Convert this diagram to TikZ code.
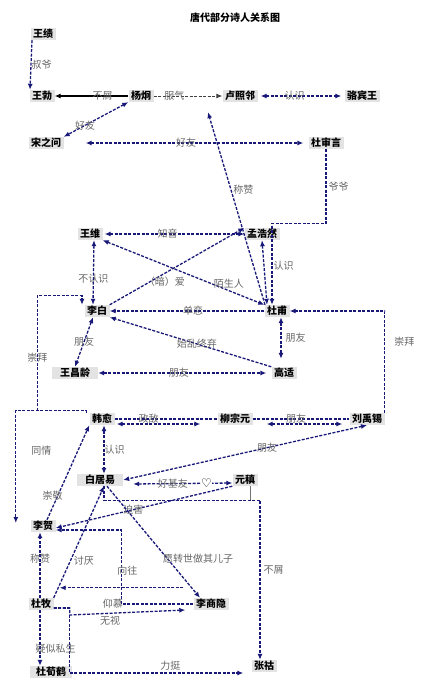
\documentclass[tikz,border=0pt]{standalone}
\usepackage{fontspec}
\setmainfont{Noto Sans CJK SC}
\newfontfamily\heartfont{DejaVu Sans}
\usepackage{tikz}
\usetikzlibrary{arrows.meta,calc}
\tikzset{>={Latex[length=6pt,width=5pt]}}
\definecolor{relblue}{RGB}{24,24,120}
\tikzstyle{poet}=[
	 fill=gray!22,
	 inner xsep=2.5pt, inner ysep=1pt,
	 minimum height=12pt,
	 font=\fontsize{10}{12}\selectfont\bfseries
    ]
\tikzstyle{rel}=[draw=relblue, ->, line width=1.3pt, dash pattern=on 3pt off 1.5pt]
\tikzstyle{lbl}=[text=black!60, inner sep=1pt, font=\fontsize{10}{12}\selectfont]

\begin{document}
\begin{tikzpicture}[x=1pt,y=-1pt]
\useasboundingbox (0,0) rectangle (440,696);

\node[font=\fontsize{10}{12}\selectfont\bfseries] (title) at (235,18) {唐代部分诗人关系图};

\node[poet] (wangji) at (43,34) {王绩};
\node[poet] (wangbo) at (42,96) {王勃};
\node[poet] (yangjiong) at (141,96) {杨炯};
\node[poet] (luzhaolin) at (240,96) {卢照邻};
\node[poet] (luobinwang) at (362,96) {骆宾王};
\node[poet] (songzhiwen) at (46,143) {宋之问};
\node[poet] (dushenyan) at (326,143) {杜审言};
\node[poet] (wangwei) at (90,234) {王维};
\node[poet] (menghaoran) at (262,234) {孟浩然};
\node[poet] (libai) at (97,311) {李白};
\node[poet] (dufu) at (277,311) {杜甫};
\node[poet, minimum width=46pt] (wangchangling) at (75,373) {王昌龄};
\node[poet] (gaoshi) at (284,373) {高适};
\node[poet] (hanyu) at (102,419) {韩愈};
\node[poet] (liuzongyuan) at (235,419) {柳宗元};
\node[poet] (liuyuxi) at (367,419) {刘禹锡};
\node[poet, minimum width=46pt] (baijuyi) at (100,480) {白居易};
\node[poet] (yuanzhen) at (245,480) {元稹};
\node[poet] (lihe) at (43,526) {李贺};
\node[poet] (dumu) at (41,604) {杜牧};
\node[poet] (lishangyin) at (211,604) {李商隐};
\node[poet, minimum width=42pt] (duxunhe) at (51,672) {杜荀鹤};
\node[poet] (zhanghu) at (264,666) {张祜};

% early Tang
\draw[rel] ([xshift=-11pt]wangji.south) -- ([xshift=-12pt]wangbo.north) node[lbl,midway,right=-1pt]{叔爷};
\draw[->,line width=1.1pt] (yangjiong.west) -- (wangbo.east) node[lbl,pos=.35]{不屑};
\draw[rel,draw=black!75,line width=.9pt] (yangjiong.east) -- (luzhaolin.west) node[lbl,pos=.3]{服气};
\draw[rel,<->] ([xshift=3pt]luzhaolin.east) -- ([xshift=-3pt]luobinwang.west) node[lbl,pos=.42]{认识};
\draw[rel,<->] (yangjiong.south west) -- (songzhiwen.north east) node[lbl,pos=.67]{好友};
\draw[rel,<->,shorten <=22pt,shorten >=5pt] (songzhiwen.east) -- (dushenyan.west) node[lbl,pos=.5]{好友};
\draw[rel] ([xshift=-12pt]dufu.north) -- ([xshift=-32pt,yshift=-10pt]luzhaolin.south) node[lbl,pos=.6,right=1pt]{称赞};
\draw[rel] (dushenyan.south) -- ++(0,74) node[lbl,midway,right=1pt]{爷爷} -| ([xshift=-5pt]dufu.north);

% high Tang
\draw[rel,<->] ([xshift=2pt]wangwei.east) -- (menghaoran.west) node[lbl,pos=.45]{知音};
\draw[rel,<->] (wangwei.south east) -- (dufu.north west) node[lbl,pos=.78,yshift=7pt]{陌生人};
\draw[rel,<->] ([xshift=4pt]wangwei.south) -- ([xshift=-4pt]libai.north) node[lbl,pos=.6]{不认识};
\draw[rel] (libai.north east) -- (menghaoran.north west) node[lbl,pos=.41,yshift=-8pt]{（暗）爱};
\draw[rel,<->] (menghaoran.south) -- ([xshift=-10pt]dufu.north) node[lbl,pos=.4,right=8pt]{认识};
\draw[rel] (dufu.west) -- (libai.east) node[lbl,pos=.46]{单恋};
\draw[rel] (gaoshi.north west) -- (libai.south east) node[lbl,pos=.46]{始乱终弃};
\draw[rel,<->] ([xshift=-4pt]libai.south) -- (wangchangling.north) node[lbl,pos=.5]{朋友};
\draw[rel,<->] ([xshift=4pt]dufu.south) -- ([xshift=-3pt,yshift=8pt]gaoshi.north) node[lbl,midway,right=3pt]{朋友};
\draw[rel,<->] (wangchangling.east) -- ([xshift=-5pt]gaoshi.west) node[lbl,pos=.48]{朋友};
\draw[rel] (liuyuxi.north east) |- (dufu.east) node[lbl,pos=.35,right=8pt]{崇拜};

% Han Yu and friends
\draw[rel] ([xshift=-3pt]hanyu.north west) -- ++(0,-2) -- ++(-70.5,0) -- ([xshift=-14.5pt,yshift=3pt]lihe.west) node[lbl,pos=.36,right=14pt]{同情};
\draw[rel] ([xshift=-52pt,yshift=2pt]hanyu.north west) -- ++(0,-115) node[lbl,pos=.46]{崇拜} -| ([xshift=-15pt]libai.north);
\draw[rel,-] (hanyu.east) -- (liuzongyuan.west) node[lbl,pos=.33]{政敌};
\draw[rel,<->] ([xshift=2pt,yshift=-5pt]hanyu.east) -- ([xshift=-17pt,yshift=-5pt]liuzongyuan.west);
\draw[rel,-] (liuzongyuan.east) -- (liuyuxi.west) node[lbl,pos=.45]{朋友};
\draw[rel,<->] ([xshift=14pt,yshift=-5pt]liuzongyuan.east) -- ([xshift=-7pt,yshift=-5pt]liuyuxi.west);
\draw[rel,<->] (liuyuxi.south) -- (baijuyi.east) node[lbl,pos=.41]{朋友};
\draw[rel,<->] ([xshift=2pt]hanyu.south) -- ([xshift=4pt]baijuyi.north) node[lbl,midway,right=-1pt]{认识};
\draw[rel,<->] ([xshift=10pt,yshift=-4pt]baijuyi.east) -- ([yshift=-3pt]yuanzhen.west)
  node[lbl,pos=.4]{好基友}
  node[pos=.74,inner sep=0pt,fill=white,font=\heartfont\fontsize{12}{12}\selectfont]{♡};
\draw[rel] (yuanzhen.south west) -- ([yshift=-2pt]lihe.east) node[lbl,pos=.56]{迫害};
\draw[rel] ([xshift=4pt]baijuyi.south) -- ++(0,14) -| ([xshift=-4pt]zhanghu.north) node[lbl,pos=.72,right=2pt]{不屑};
\draw[black!55,line width=.8pt] ([xshift=5pt]yuanzhen.south) -- ++(0,14);
\draw[rel] ([xshift=4pt]lihe.north) -- (hanyu.south west) node[lbl,pos=.25,xshift=-5pt]{崇敬};

% late Tang
\draw[rel] (dumu.north east) -- ([xshift=4pt]baijuyi.south) node[lbl,pos=.33,right=2pt]{讨厌};
\draw[rel] ([xshift=-1pt]dumu.north) -- ([xshift=-3pt]lihe.south) node[lbl,pos=.6]{称赞};
\draw[rel] ([xshift=7pt]baijuyi.south) -- ([xshift=-11pt]lishangyin.north) node[lbl,pos=.65,right=-6pt]{愿转世做其儿子};
\draw[rel] ([shift={(-10pt,10pt)}]lishangyin.north west) -- ([shift={(6pt,10pt)}]dumu.north east);
\draw[rel] (lishangyin.west) -- ++(-71.5,0) node[lbl,pos=1,xshift=-9pt]{仰慕} -- ++(0,-74) node[lbl,pos=.45,right=-6pt]{向往} -- ([yshift=-4pt]lihe.east);
\draw[rel] ([yshift=-4pt]dumu.east) -- ++(16,0) -- ++(0,7) -- ([xshift=-8pt,yshift=-6pt]lishangyin.west) node[lbl,pos=.35,below=1pt]{无视};
\draw[rel] ([yshift=-4pt]dumu.east) -- ++(16,0) -- ++(0,65) -- ([xshift=-8pt,yshift=-7pt]zhanghu.west) node[lbl,pos=.58,above=1pt]{力挺};
\draw[rel] ([xshift=-1pt]dumu.south) -- ([xshift=-11pt]duxunhe.north) node[lbl,pos=.7,right=-6pt]{疑似私生};

\end{tikzpicture}
\end{document}
